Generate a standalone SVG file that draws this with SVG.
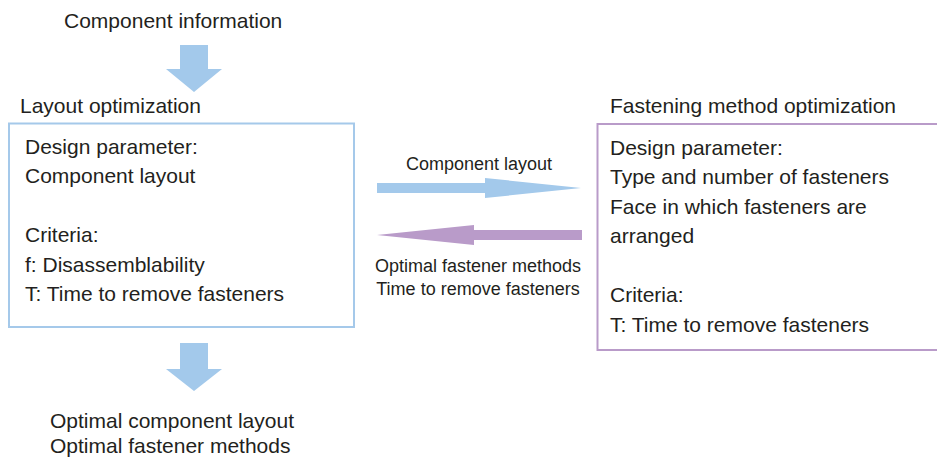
<svg xmlns="http://www.w3.org/2000/svg" width="937" height="461" viewBox="0 0 937 461">
<style>
  text { font-family: "Liberation Sans", Arial, sans-serif; fill: #231f20; }
  .t21 { font-size: 21px; }
  .t18 { font-size: 18px; }
  .mid { text-anchor: middle; }
  .boxb { fill: #ffffff; stroke: #a5c9ea; stroke-width: 2; }
  .boxp { fill: #ffffff; stroke: #b99bc9; stroke-width: 2; }
  .ab { fill: #a3c9eb; }
  .ap { fill: #b99bc9; }
</style>
<rect width="937" height="461" fill="#ffffff"/>

<g id="input">
  <text class="t21" x="64" y="28">Component information</text>
</g>

<g id="layout-opt">
  <text class="t21" x="20" y="113">Layout optimization</text>
  <rect class="boxb" x="9" y="123.5" width="345" height="203.5"/>
  <text class="t21" x="25" y="153.5">Design parameter:</text>
  <text class="t21" x="25" y="183">Component layout</text>
  <text class="t21" x="25" y="242">Criteria:</text>
  <text class="t21" x="25" y="271.5">f: Disassemblability</text>
  <text class="t21" x="25" y="301">T: Time to remove fasteners</text>
</g>

<g id="fastening-opt">
  <text class="t21" x="610" y="113">Fastening method optimization</text>
  <rect class="boxp" x="597.5" y="124" width="350" height="226"/>
  <text class="t21" x="610" y="154.5">Design parameter:</text>
  <text class="t21" x="610" y="184">Type and number of fasteners</text>
  <text class="t21" x="610" y="213.5">Face in which fasteners are</text>
  <text class="t21" x="610" y="243">arranged</text>
  <text class="t21" x="610" y="302">Criteria:</text>
  <text class="t21" x="610" y="331.5">T: Time to remove fasteners</text>
</g>

<g id="output">
  <text class="t21" x="50" y="428">Optimal component layout</text>
  <text class="t21" x="50" y="453">Optimal fastener methods</text>
</g>

<g id="connectors">
  <polygon class="ab" points="180,45 208,45 208,69 222,69 194,92 166,69 180,69"/>
  <polygon class="ab" points="180,343 208,343 208,369 222,369 194,391 166,369 180,369"/>
  <polygon class="ab" points="377,183 485,183 485,178 581,188 485,198 485,193 377,193"/>
  <polygon class="ap" points="582,230 474,230 474,225 377,235 474,245 474,240 582,240"/>
  <text class="t18 mid" x="479" y="170">Component layout</text>
  <text class="t18 mid" x="478" y="272">Optimal fastener methods</text>
  <text class="t18 mid" x="478" y="295">Time to remove fasteners</text>
</g>
</svg>
